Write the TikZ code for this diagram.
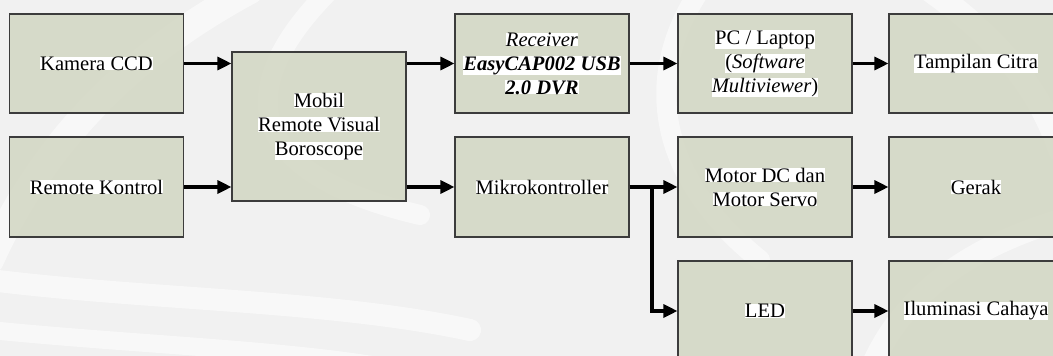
\documentclass[tikz,border=0pt]{standalone}
\usepackage{fontspec}
\setmainfont{Liberation Serif}
\usetikzlibrary{arrows.meta}
\definecolor{pagebg}{RGB}{241,241,241}
\definecolor{boxfill}{RGB}{210,214,194}
\definecolor{boxline}{RGB}{60,60,60}
\newcommand{\hl}[1]{{\setlength{\fboxsep}{0pt}\colorbox{white}{#1}}}
\tikzset{
  block/.style={draw=boxline, line width=1.1pt, fill=boxfill, fill opacity=0.85,
    text opacity=1, minimum width=174pt, minimum height=99pt, inner sep=0pt,
    align=center, font=\fontsize{20.6}{24}\selectfont},
  tall/.style={minimum height=149pt},
  flow/.style={line width=3.2pt, -{Triangle[length=14pt,width=13pt]}},
  sweep/.style={white, line width=28pt, opacity=0.55, line cap=round}
}
\begin{document}
\begin{tikzpicture}[x=1pt,y=-1pt]
  \useasboundingbox (0,0) rectangle (1053,356);
  \clip (0,0) rectangle (1053,356);
  \fill[pagebg] (0,0) rectangle (1053,356);

  % faint emblem sweeps behind the blocks
  \draw[sweep] (250,-10) .. controls (120,60) and (40,150) .. (-10,260);
  \draw[sweep, line width=20pt] (330,-10) .. controls (240,80) and (230,170) .. (420,215);
  \draw[sweep, line width=22pt] (-10,280) .. controls (150,300) and (330,300) .. (470,330);
  \draw[sweep, line width=18pt] (-10,330) .. controls (140,345) and (300,350) .. (400,370);
  \draw[sweep, line width=24pt] (930,-10) .. controls (1000,40) and (1040,90) .. (1060,150);
  \draw[sweep, line width=20pt] (700,-10) .. controls (640,80) and (660,180) .. (760,260);
  \draw[sweep, line width=22pt] (870,370) .. controls (900,300) and (960,250) .. (1060,220);

  % blocks
  \node[block] (kam) at (96.5,63.5) {\hl{Kamera CCD}};
  \node[block, minimum height=100pt] (rem) at (96.5,187) {\hl{Remote Kontrol}};
  \node[block, tall] (mob) at (319,126.5) {\hl{Mobil}\\\hl{Remote Visual}\\\hl{Boroscope}};
  \node[block] (rec) at (542,63.5)
    {\hl{\textit{Receiver}}\\\hl{\textbf{\textit{EasyCAP002 USB}}}\\\hl{\textbf{\textit{2.0 DVR}}}};
  \node[block, minimum height=100pt] (mik) at (542,187) {\hl{Mikrokontroller}};
  \node[block] (pc) at (765,63.5)
    {\hl{PC / Laptop}\\\hl{(\textit{Software}}\\\hl{\textit{Multiviewer})}};
  \node[block, minimum height=100pt] (mot) at (765,187) {\hl{Motor DC dan}\\\hl{Motor Servo}};
  \node[block, minimum height=100pt] (led) at (765,311) {\hl{LED}};
  \node[block] (tam) at (976,63.5) {\hl{Tampilan Citra}};
  \node[block, minimum height=100pt] (ger) at (976,187) {\hl{Gerak}};
  \node[block, minimum height=100pt] (ilu) at (976,311) {\hl{Iluminasi Cahaya}};

  % branch point after the microcontroller
  \coordinate (br) at (652,187);

  % connectors
  \draw[flow] (kam.east) -- (kam.east -| mob.west);
  \draw[flow] (rem.east) -- (rem.east -| mob.west);
  \draw[flow] (mob.east |- rec.west) -- (rec.west);
  \draw[flow] (mob.east |- mik.west) -- (mik.west);
  \draw[flow] (rec.east) -- (pc.west);
  \draw[flow] (pc.east) -- (tam.west);
  \draw[flow] (mik.east) -- (mot.west);
  \draw[flow] (mik.east) -- (br) |- (led.west);
  \draw[flow] (mot.east) -- (ger.west);
  \draw[flow] (led.east) -- (ilu.west);
\end{tikzpicture}
\end{document}
